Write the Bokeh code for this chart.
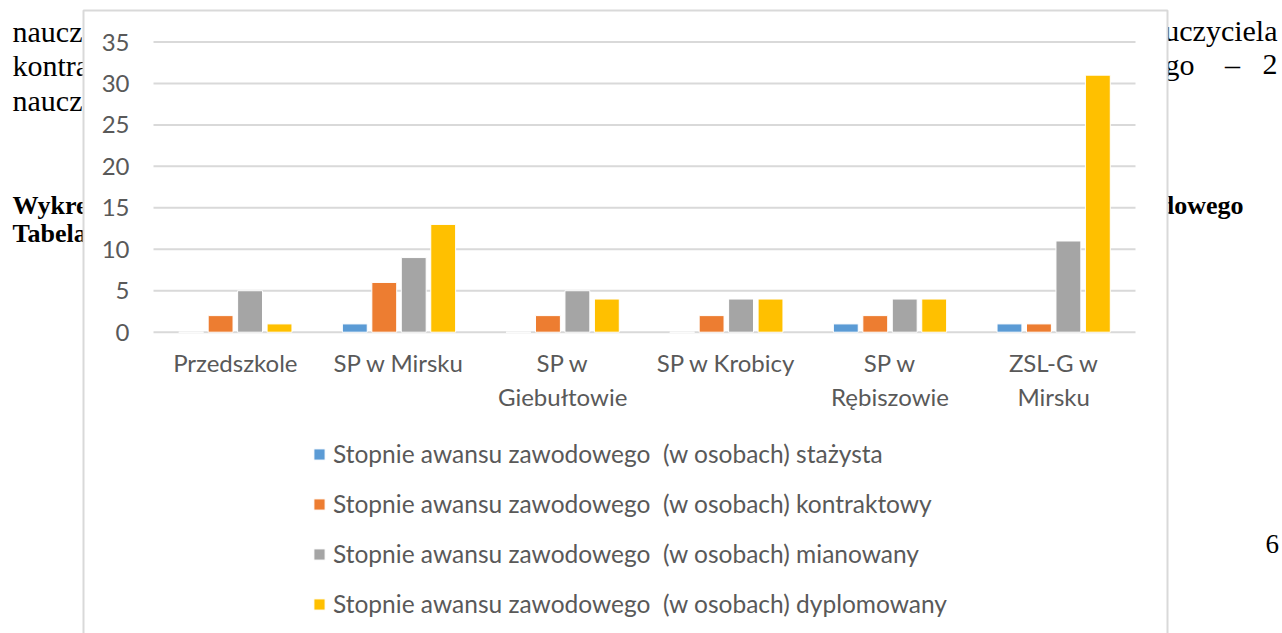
from bokeh.plotting import figure
from bokeh.models import (ColumnDataSource, Range1d, FixedTicker, LinearAxis,
                          Legend, LegendItem)
from bokeh.core.properties import value
from bokeh.transform import dodge
from bokeh.embed import file_html
from bokeh.resources import INLINE

# ---------------- data ----------------
categories = ["Przedszkole", "SP w Mirsku", "SP w\nGiebułtowie",
              "SP w Krobicy", "SP w\nRębiszowie", "ZSL-G w\nMirsku"]
stazysta = [0, 1, 0, 0, 1, 1]
kontraktowy = [2, 6, 2, 2, 2, 1]
mianowany = [5, 9, 5, 4, 4, 11]
dyplomowany = [1, 13, 4, 4, 4, 31]
series_names = [
    "Stopnie awansu zawodowego\u00a0 (w osobach) stażysta",
    "Stopnie awansu zawodowego\u00a0 (w osobach) kontraktowy",
    "Stopnie awansu zawodowego\u00a0 (w osobach) mianowany",
    "Stopnie awansu zawodowego\u00a0 (w osobach) dyplomowany",
]
y_ticks = [0, 5, 10, 15, 20, 25, 30, 35]

colors = ["#5B9BD5", "#ED7D31", "#A5A5A5", "#FFC000"]
offsets = [-0.27, -0.09, 0.09, 0.27]

# ---------------- layout (pixels) ----------------
W, H = 1282, 633
PL, PR = 153, 1135          # plot area left / right edge
Y35, Y0 = 41.5, 331.7        # pixel rows of values 35 and 0
n = len(categories)
u = (PR - PL) / n
cat_start = -PL / u
cat_end = n + (W - PR) / u
v = (Y0 - Y35) / 35.0
val_end = 35 + Y35 / v
val_start = -(H - Y0) / v

pos = [i + 0.5 for i in range(n)]
src = ColumnDataSource(dict(pos=pos, s0=stazysta, s1=kontraktowy,
                            s2=mianowany, s3=dyplomowany))

p = figure(width=W, height=H, output_backend="svg", toolbar_location=None,
           x_range=Range1d(0, W), y_range=Range1d(H, 0),
           x_axis_type=None, y_axis_type=None,
           min_border=0, min_border_left=0, min_border_right=0,
           min_border_top=0, min_border_bottom=0)
p.extra_x_ranges = {"cat": Range1d(cat_start, cat_end)}
p.extra_y_ranges = {"val": Range1d(val_start, val_end)}
p.outline_line_color = None
p.background_fill_color = "white"
p.border_fill_color = "white"
p.xgrid.visible = False
p.ygrid.visible = False

# ---- background document text (behind the chart box) ----
doc_texts = [
    ("naucz", 12, 31, "normal", "left", "30px"),
    ("kontra", 12, 65, "normal", "left", "30px"),
    ("naucz", 12, 100, "normal", "left", "30px"),
    ("Wykres", 12, 205, "bold", "left", "26px"),
    ("Tabela", 12, 233, "bold", "left", "26px"),
    ("nauczyciela", 1277, 30, "normal", "right", "30px"),
    ("zawodowego", 1194, 64, "normal", "right", "30px"),
    ("\u2013", 1232, 64, "normal", "center", "30px"),
    ("2", 1277, 64, "normal", "right", "30px"),
    ("zawodowego", 1243, 205, "bold", "right", "26px"),
    ("6", 1265, 543, "normal", "left", "27px"),
]
for t, X, Y, wt, al, fs in doc_texts:
    p.text(x=[X], y=[Y], text=[t], text_font=value("Liberation Serif"),
           text_font_size=fs, text_font_style=wt, text_align=al,
           text_baseline="alphabetic", text_color="black", level="image")

# ---- chart box ----
p.quad(left=[83], right=[1167], top=[10], bottom=[H + 10],
       fill_color="white", line_color="#D9D9D9", line_width=2, level="image")

# ---- gridlines (from the tick list) ----
p.segment(x0=0, x1=n, y0=y_ticks, y1=y_ticks, x_range_name="cat",
          y_range_name="val", line_color="#D9D9D9", line_width=2,
          level="underlay")

# ---- bars ----
renderers = []
for i, key in enumerate(["s0", "s1", "s2", "s3"]):
    r = p.vbar(x=dodge("pos", offsets[i]), top=key, bottom=0,
               width=0.152, source=src, fill_color=colors[i],
               line_color="white", line_width=1,
               x_range_name="cat", y_range_name="val")
    renderers.append(r)

# ---- axes (fixed inside the canvas) ----
yaxis = LinearAxis(x_range_name="cat", y_range_name="val",
                   ticker=FixedTicker(ticks=y_ticks), fixed_location=0)
xaxis = LinearAxis(x_range_name="cat", y_range_name="val",
                   ticker=FixedTicker(ticks=pos), fixed_location=0,
                   major_label_overrides={pv: c for pv, c in zip(pos, categories)})
for ax in (xaxis, yaxis):
    ax.axis_line_color = None
    ax.major_tick_line_color = None
    ax.minor_tick_line_color = None
    ax.major_tick_out = 0
    ax.major_tick_in = 0
    ax.major_label_text_font = "Lato"
    ax.major_label_text_font_size = "24px"
    ax.major_label_text_color = "#595959"
yaxis.major_label_standoff = 24
xaxis.major_label_standoff = 16
xaxis.major_label_text_line_height = 1.15
p.add_layout(yaxis, "left")
p.add_layout(xaxis, "below")

# ---- legend ----
legend = Legend(items=[LegendItem(label=series_names[i], renderers=[renderers[i]])
                       for i in range(4)],
                location=(312, 15), orientation="vertical",
                glyph_width=14, glyph_height=14, label_standoff=7,
                label_height=20, spacing=21, padding=0, margin=0,
                border_line_color=None, background_fill_alpha=0,
                label_text_font="Lato", label_text_font_size="24.5px",
                label_text_color="#595959")
p.add_layout(legend, "center")

open("out.html", "w").write(file_html(p, INLINE))
